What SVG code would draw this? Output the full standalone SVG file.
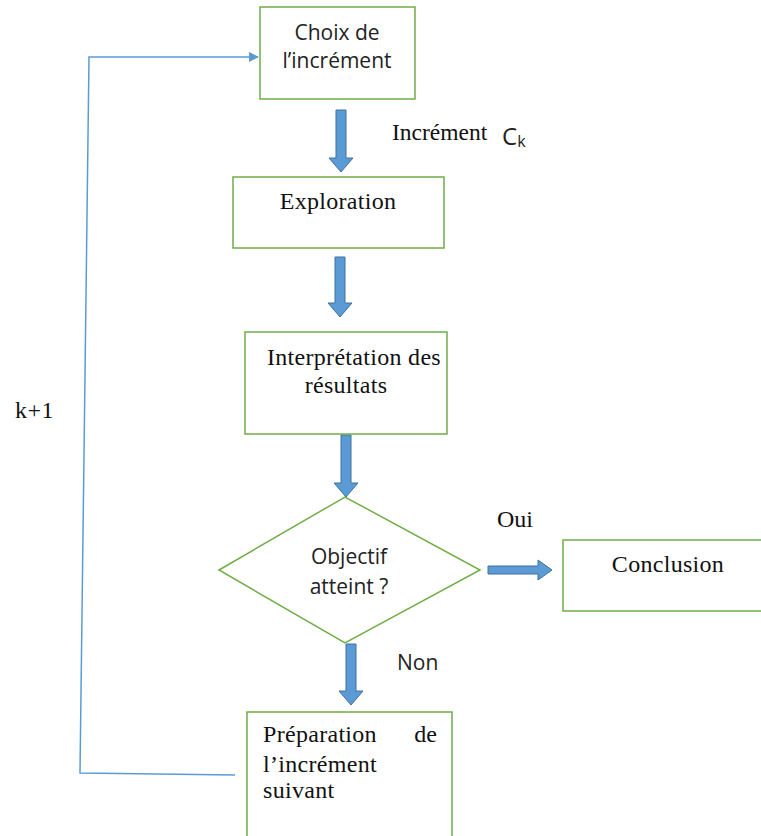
<svg xmlns="http://www.w3.org/2000/svg" width="761" height="836" viewBox="0 0 761 836">
<defs>
<style>
.box{fill:#fff;stroke:#70ad47;stroke-width:1.5}
.blk{fill:#5b9bd5;stroke:#41719c;stroke-width:1}
.serif{font-family:"Liberation Serif","Times New Roman",serif;font-size:24px;fill:#111}
.sans{font-family:"Open Sans","Liberation Sans",Arial,sans-serif;font-size:21px;fill:#222}
.loop{fill:none;stroke:#5b9bd5;stroke-width:1.5}
</style>
<marker id="ah" markerWidth="10" markerHeight="10" refX="9" refY="5" orient="auto" markerUnits="userSpaceOnUse">
<path d="M0,0 L10,5 L0,10 z" fill="#5b9bd5"/>
</marker>
</defs>
<rect width="761" height="836" fill="#fff"/>

<g id="connectors">
<path class="blk" d="M336,110 H346 V158 H353 L341,172 L329,158 H336 Z"/>
<path class="blk" d="M335,257 H345 V303 H352 L340,317 L328,303 H335 Z"/>
<path class="blk" d="M341,435 H351 V483 H358 L346,497 L334,483 H341 Z"/>
<path class="blk" d="M346,644 H356 V691 H363 L351,705 L339,691 H346 Z"/>
<path class="blk" d="M488,566 H538 V560 L552,570 L538,580 V574 H488 Z"/>
<path class="loop" d="M235,775 L80,773 L89,57 L258,57" marker-end="url(#ah)"/>
<text class="serif" x="15" y="418" style="letter-spacing:0.5px">k+1</text>
<text class="serif" x="392" y="140" style="font-size:23.5px">Incrément</text>
<text class="sans" x="502" y="145" style="font-size:24px">C<tspan style="font-size:16px" dy="2">k</tspan></text>
<text class="serif" x="497" y="527">Oui</text>
<text class="sans" x="397" y="670">Non</text>
</g>

<g id="choix">
<rect class="box" x="260" y="7" width="155" height="92"/>
<text class="sans" x="337" y="40" text-anchor="middle">Choix de</text>
<text class="sans" x="337" y="68" text-anchor="middle">l’incrément</text>
</g>

<g id="exploration">
<rect class="box" x="233" y="177" width="211" height="71"/>
<text class="serif" x="338" y="209" text-anchor="middle" style="letter-spacing:0.3px">Exploration</text>
</g>

<g id="interpretation">
<rect class="box" x="245" y="332" width="202" height="102"/>
<text class="serif" x="354" y="365" text-anchor="middle" style="letter-spacing:0.3px">Interprétation des</text>
<text class="serif" x="346" y="393" text-anchor="middle" style="letter-spacing:0.3px">résultats</text>
</g>

<g id="objectif">
<polygon class="box" points="219,570 345,497 480,570 345,643"/>
<text class="sans" x="349" y="564" text-anchor="middle">Objectif</text>
<text class="sans" x="349" y="594" text-anchor="middle">atteint ?</text>
</g>

<g id="conclusion">
<rect class="box" x="563" y="540" width="205" height="71"/>
<text class="serif" x="668" y="572" text-anchor="middle" style="letter-spacing:0.3px">Conclusion</text>
</g>

<g id="preparation">
<rect class="box" x="247" y="712" width="205" height="135"/>
<text class="serif" x="263" y="742" style="letter-spacing:0.3px">Préparation</text>
<text class="serif" x="437" y="742" text-anchor="end">de</text>
<text class="serif" x="263" y="772" style="letter-spacing:0.3px">l’incrément</text>
<text class="serif" x="263" y="798" style="letter-spacing:0.3px">suivant</text>
</g>
</svg>
